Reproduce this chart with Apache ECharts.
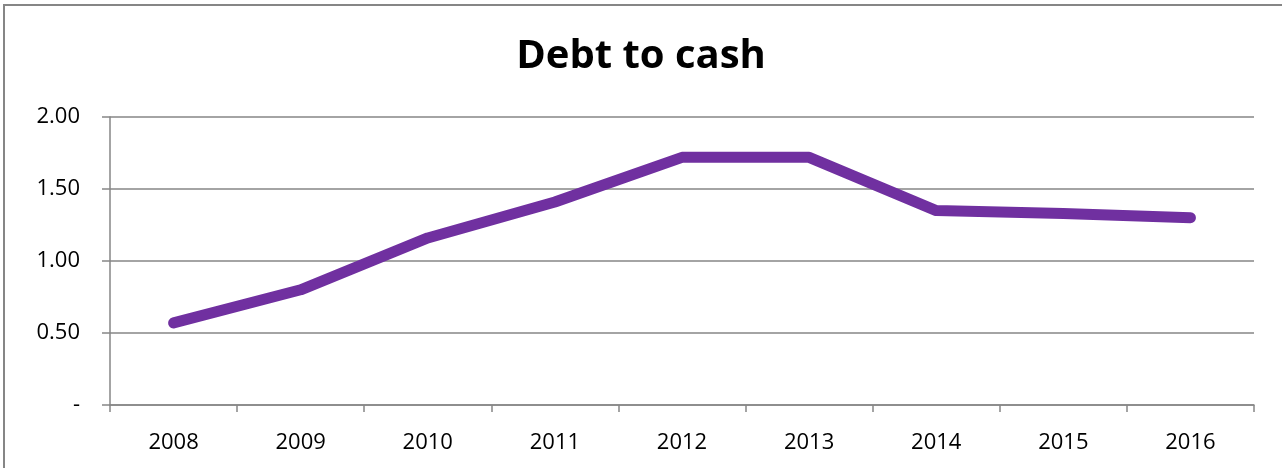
<!DOCTYPE html>
<html>
<head>
<meta charset="utf-8">
<script src="https://cdn.jsdelivr.net/npm/echarts@6/dist/echarts.min.js"></script>
<style>
html,body{margin:0;padding:0;background:#fff;}
#chart{width:1282px;height:468px;}
</style>
</head>
<body>
<div id="chart"></div>
<script>
const titleText = "Debt to cash";
const years = ["2008","2009","2010","2011","2012","2013","2014","2015","2016"];
const debtToCash = [0.57, 0.80, 1.16, 1.41, 1.72, 1.72, 1.35, 1.33, 1.30];
const yTicks = [0, 0.5, 1.0, 1.5, 2.0];

const chart = echarts.init(document.getElementById('chart'), null, {renderer: 'canvas'});
const gray = '#868686';
const font = '"Open Sans", sans-serif';
chart.setOption({
  animation: false,
  backgroundColor: '#fff',
  title: {
    text: titleText,
    left: 'center',
    top: 32,
    textStyle: {fontFamily: font, fontWeight: 'bold', fontSize: 40, color: '#000'}
  },
  graphic: [{
    type: 'rect',
    shape: {x: 4, y: 5, width: 1400, height: 600},
    style: {fill: 'none', stroke: gray, lineWidth: 2},
    silent: true
  }],
  grid: {left: 110, right: 28, top: 117, bottom: 63},
  xAxis: {
    type: 'category',
    data: years,
    boundaryGap: true,
    axisLine: {lineStyle: {color: gray, width: 1.5}},
    axisTick: {show: true, length: 7, lineStyle: {color: gray, width: 1.5}},
    axisLabel: {fontFamily: font, fontSize: 22, color: '#000', margin: 27}
  },
  yAxis: {
    type: 'value',
    min: yTicks[0],
    max: yTicks[yTicks.length - 1],
    interval: 0.5,
    axisLine: {show: true, lineStyle: {color: gray, width: 1.5}},
    axisTick: {show: true, length: 8, lineStyle: {color: gray, width: 1.5}},
    splitLine: {lineStyle: {color: gray, width: 1.5}},
    axisLabel: {
      fontFamily: font, fontSize: 22, color: '#000', margin: 30,
      formatter: v => v === 0 ? '-' : v.toFixed(2)
    }
  },
  series: [{
    type: 'line',
    data: debtToCash,
    symbol: 'none',
    lineStyle: {color: '#7030A0', width: 11, cap: 'round', join: 'round'}
  }]
});
</script>
</body>
</html>
